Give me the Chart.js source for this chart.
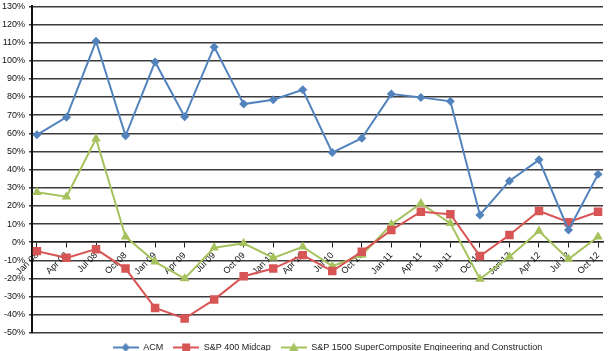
<!DOCTYPE html>
<html>
<head>
<meta charset="utf-8">
<script src="https://cdn.jsdelivr.net/npm/chart.js@4/dist/chart.umd.min.js"></script>
<style>
    html, body { margin: 0; padding: 0; background: #fff; }
    #wrap { width: 609px; height: 351px; }
</style>
</head>
<body>
<div id="wrap"><canvas id="perfChart" width="609" height="351"></canvas></div>
<script>
// quarters
const labels = ["Jan 08", "Apr 08", "Jul 08", "Oct 08", "Jan 09", "Apr 09", "Jul 09", "Oct 09", "Jan 10", "Apr 10",
    "Jul 10", "Oct 10", "Jan 11", "Apr 11", "Jul 11", "Oct 11", "Jan 12", "Apr 12", "Jul 12", "Oct 12"];

// percent values
const acm = [59.2, 68.9, 110.7, 58.6, 99.3, 69.1, 107.6, 76.1, 78.5, 84, 49.4, 57.3, 81.6, 79.8, 77.6, 15, 33.8, 45.4, 6.7, 37.4];
const midcap = [-4.9, -8.6, -3.8, -14.5, -36.2, -42, -31.6, -18.7, -14.5, -7.1, -15.9, -5.2, 6.7, 16.8, 15.4, -7.6, 4, 17.2, 11, 16.8];
const engCon = [27.5, 25.1, 57, 3, -10.8, -20, -3, -0.6, -8.6, -2.5, -13.2, -7.1, 9.8, 21.4, 10.4, -20.3, -8, 6.2, -9.3, 3];

const seriesNames = ["ACM", "S&P 400 Midcap", "S&P 1500 SuperComposite Engineering and Construction"];

const yMin = -50;
const yMax = 130;
const yStep = 10;

const BLUE = "#5383bd";
const RED = "#d85555";
const GREEN = "#a6c25c";

const FONT = "'Liberation Sans', Arial, Helvetica, sans-serif";

// legend icon: short line with the marker in the middle
function legendIcon(color, shape) {
    const c = document.createElement("canvas");
    c.width = 26;
    c.height = 12;
    const g = c.getContext("2d");
    g.strokeStyle = color;
    g.lineWidth = 2;
    g.beginPath();
    g.moveTo(0, 6);
    g.lineTo(26, 6);
    g.stroke();
    g.fillStyle = color;
    g.beginPath();
    if (shape === "diamond") {
        g.moveTo(13, 1.5);
        g.lineTo(17, 6);
        g.lineTo(13, 10.5);
        g.lineTo(9, 6);
    } else if (shape === "square") {
        g.rect(9, 2, 8, 8);
    } else {
        g.moveTo(13, 1);
        g.lineTo(18, 10);
        g.lineTo(8, 10);
    }
    g.closePath();
    g.fill();
    return c;
}

const icons = [legendIcon(BLUE, "diamond"), legendIcon(RED, "square"), legendIcon(GREEN, "triangle")];

const toPoints = (arr) => arr.map((v, i) => ({ x: i, y: v }));

// legend sits a bit right of centre in the original
const legendShift = {
    id: "legendShift",
    afterLayout(chart) {
        const lg = chart.legend;
        if (!lg) return;
        lg.left += 24;
        lg.right += 24;
    },
};

const ctx = document.getElementById("perfChart");

new Chart(ctx, {
    type: "line",

    data: {
        datasets: [
            {
                label: seriesNames[0],
                data: toPoints(acm),
                borderColor: BLUE,
                backgroundColor: BLUE,
                borderWidth: 2,
                pointStyle: "rectRot",
                pointRadius: 4.5,
                pointBorderWidth: 0,
                tension: 0,
            },
            {
                label: seriesNames[1],
                data: toPoints(midcap),
                borderColor: RED,
                backgroundColor: RED,
                borderWidth: 2,
                pointStyle: "rect",
                pointRadius: 6,
                pointBorderWidth: 0,
                tension: 0,
            },
            {
                label: seriesNames[2],
                data: toPoints(engCon),
                borderColor: GREEN,
                backgroundColor: GREEN,
                borderWidth: 2,
                pointStyle: "triangle",
                pointRadius: 5.5,
                pointBorderWidth: 0,
                tension: 0,
            },
        ],
    },

    plugins: [legendShift],

    options: {
        responsive: false,
        animation: false,
        devicePixelRatio: 1,

        layout: {
            padding: { top: 5, right: 2, bottom: 0, left: 0 },
        },

        plugins: {
            tooltip: { enabled: false },
            legend: {
                position: "bottom",
                maxHeight: 18,
                labels: {
                    usePointStyle: true,
                    pointStyleWidth: 26,
                    boxHeight: 9,
                    padding: 10,
                    color: "#222",
                    font: { family: FONT, size: 9 },
                    generateLabels: (chart) => {
                        const items = Chart.defaults.plugins.legend.labels.generateLabels(chart);
                        items.forEach((item, i) => {
                            item.pointStyle = icons[i];
                        });
                        return items;
                    },
                },
            },
        },

        scales: {
            x: {
                type: "linear",
                position: { y: 0 },
                min: -0.168,
                max: labels.length - 1 + 0.168,
                afterBuildTicks: (scale) => {
                    scale.ticks = labels.map((_, i) => ({ value: i }));
                },
                ticks: {
                    autoSkip: false,
                    maxRotation: 45,
                    minRotation: 45,
                    padding: 3,
                    color: "#111",
                    font: { family: FONT, size: 9 },
                    callback: (value) => labels[value] ?? "",
                },
                grid: {
                    drawOnChartArea: false,
                    drawTicks: true,
                    tickLength: 5,
                    color: "#222",
                    lineWidth: 1,
                },
                border: { display: true, color: "#222", width: 1.5 },
            },

            y: {
                min: yMin,
                max: yMax,
                afterFit: (scale) => {
                    scale.width = 32;
                },
                ticks: {
                    stepSize: yStep,
                    padding: 4,
                    color: "#111",
                    font: { family: FONT, size: 9, lineHeight: 0.5 },
                    callback: (value) => value + "%",
                },
                grid: {
                    color: "#3c3c3c",
                    lineWidth: 1.5,
                    tickLength: 3,
                },
                border: { display: true, color: "#111", width: 2 },
            },
        },
    },
});
</script>
</body>
</html>
